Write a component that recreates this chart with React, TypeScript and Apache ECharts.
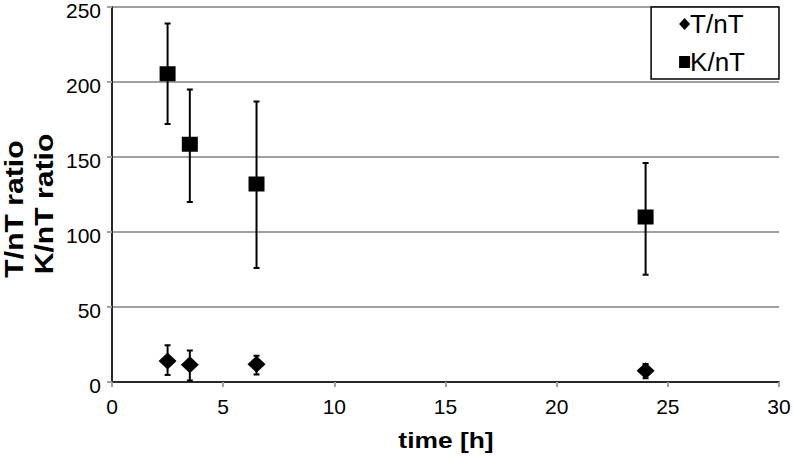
import React, { useEffect, useRef } from "react";
import * as echarts from "echarts";

const times = [2.5, 3.5, 6.5, 24];
const tnt = [14, 11.5, 11.8, 7.5];
const tntErrLow = [4.7, 1, 5, 2.5];
const tntErrHigh = [24.5, 21, 17.5, 12];
const knt = [205.5, 158.5, 132, 110];
const kntErrLow = [172, 120, 76, 71.5];
const kntErrHigh = [239, 195, 187, 146];
const xTitle = "time [h]";
const yTitleLines = ["T/nT ratio", "K/nT ratio"];
const seriesNames = ["T/nT", "K/nT"];

const FONT = "Liberation Sans, Arial, sans-serif";

function errorSeries(name: string, lows: number[], highs: number[]) {
  const data = times.map((t, i) => [t, lows[i], highs[i]]);
  return {
    type: "custom",
    name: name + "-err",
    xAxisIndex: 0,
    yAxisIndex: 0,
    silent: true,
    z: 1,
    data,
    encode: { x: 0, y: [1, 2] },
    renderItem: (params: any, api: any) => {
      const x = api.value(0);
      const lo = api.coord([x, api.value(1)]);
      const hi = api.coord([x, api.value(2)]);
      const w = 3;
      const style = { stroke: "#000", lineWidth: 2 };
      return {
        type: "group",
        children: [
          { type: "line", shape: { x1: lo[0], y1: lo[1], x2: hi[0], y2: hi[1] }, style },
          { type: "line", shape: { x1: lo[0] - w, y1: lo[1], x2: lo[0] + w, y2: lo[1] }, style },
          { type: "line", shape: { x1: hi[0] - w, y1: hi[1], x2: hi[0] + w, y2: hi[1] }, style },
        ],
      };
    },
  };
}

export default function App() {
  const ref = useRef<HTMLDivElement>(null);
  useEffect(() => {
    if (!ref.current) return;
    const chart = echarts.init(ref.current, undefined, { renderer: "svg" });
    const gridColor = "#a0a0a0";
    const yTitleStyle = {
      fontFamily: FONT,
      fontSize: 26,
      fontWeight: "bold",
      fill: "#000",
      textAlign: "center",
      textVerticalAlign: "middle",
    };
    chart.setOption({
      animation: false,
      backgroundColor: "#fff",
      textStyle: { fontFamily: FONT },
      grid: { left: 112, right: 14, top: 7, bottom: 74, containLabel: false, outerBoundsMode: "none" },
      legend: {
        orient: "vertical",
        right: 14,
        top: 7,
        backgroundColor: "#fff",
        borderColor: "#000",
        borderWidth: 1.5,
        padding: [4, 34, 4, 28],
        itemGap: 12,
        itemWidth: 11,
        itemHeight: 12,
        textStyle: { fontFamily: FONT, fontSize: 26, color: "#000", padding: [0, 0, 0, -5] },
        data: [
          { name: seriesNames[0], icon: "diamond" },
          { name: seriesNames[1], icon: "rect" },
        ],
        selectedMode: false,
        z: 10,
      },
      graphic: [
        {
          type: "text",
          x: 446,
          y: 440,
          scaleX: 1.2,
          style: {
            text: xTitle,
            fontFamily: FONT,
            fontSize: 22,
            fontWeight: "bold",
            fill: "#000",
            textAlign: "center",
            textVerticalAlign: "middle",
          },
        },
        {
          type: "text",
          x: 14,
          y: 209,
          rotation: Math.PI / 2,
          scaleX: 1.16,
          style: { ...yTitleStyle, text: yTitleLines[0] },
        },
        {
          type: "text",
          x: 44,
          y: 204,
          rotation: Math.PI / 2,
          scaleX: 1.16,
          style: { ...yTitleStyle, text: yTitleLines[1] },
        },
      ],
      xAxis: [
        {
          type: "value",
          min: 0,
          max: 30,
          interval: 5,
          axisLine: { show: true, lineStyle: { color: gridColor, width: 2 } },
          axisTick: { show: true, inside: false, length: 5, lineStyle: { color: gridColor, width: 2 } },
          axisLabel: { fontFamily: FONT, fontSize: 21, color: "#000", margin: 14 },
          splitLine: { show: false },
        },
        {
          type: "value",
          position: "top",
          min: 0,
          max: 30,
          interval: 5,
          axisLine: { show: true, lineStyle: { color: "#000", width: 1.5 } },
          axisTick: { show: false },
          axisLabel: { show: false },
          splitLine: { show: false },
        },
      ],
      yAxis: [
        {
          type: "value",
          min: 0,
          max: 250,
          interval: 50,
          axisLine: { show: true, lineStyle: { color: gridColor, width: 2 } },
          axisTick: { show: true, length: 5, lineStyle: { color: gridColor, width: 2 } },
          axisLabel: {
            fontFamily: FONT,
            fontSize: 21,
            color: "#000",
            margin: 11,
            formatter: (v: number) => "{a|" + v + "}",
            rich: {
              a: { fontFamily: FONT, fontSize: 21, color: "#000", lineHeight: 16, padding: [6, 0, 0, 0] },
            },
          },
          splitLine: { show: true, lineStyle: { color: gridColor, width: 2 } },
        },
        {
          type: "value",
          position: "right",
          min: 0,
          max: 250,
          interval: 50,
          axisLine: { show: true, lineStyle: { color: "#000", width: 1.5 } },
          axisTick: { show: false },
          axisLabel: { show: false },
          splitLine: { show: false },
        },
      ],
      series: [
        errorSeries(seriesNames[0], tntErrLow, tntErrHigh),
        errorSeries(seriesNames[1], kntErrLow, kntErrHigh),
        {
          type: "scatter",
          name: seriesNames[0],
          symbol: "diamond",
          symbolSize: [18, 17],
          itemStyle: { color: "#000", opacity: 1 },
          data: times.map((t, i) => [t, tnt[i]]),
          z: 3,
        },
        {
          type: "scatter",
          name: seriesNames[1],
          symbol: "rect",
          symbolSize: [16, 15],
          itemStyle: { color: "#000", opacity: 1 },
          data: times.map((t, i) => [t, knt[i]]),
          z: 3,
        },
      ],
    });
    return () => chart.dispose();
  }, []);
  return <div ref={ref} style={{ width: 793, height: 456, position: "absolute", left: 0, top: 0 }} />;
}
